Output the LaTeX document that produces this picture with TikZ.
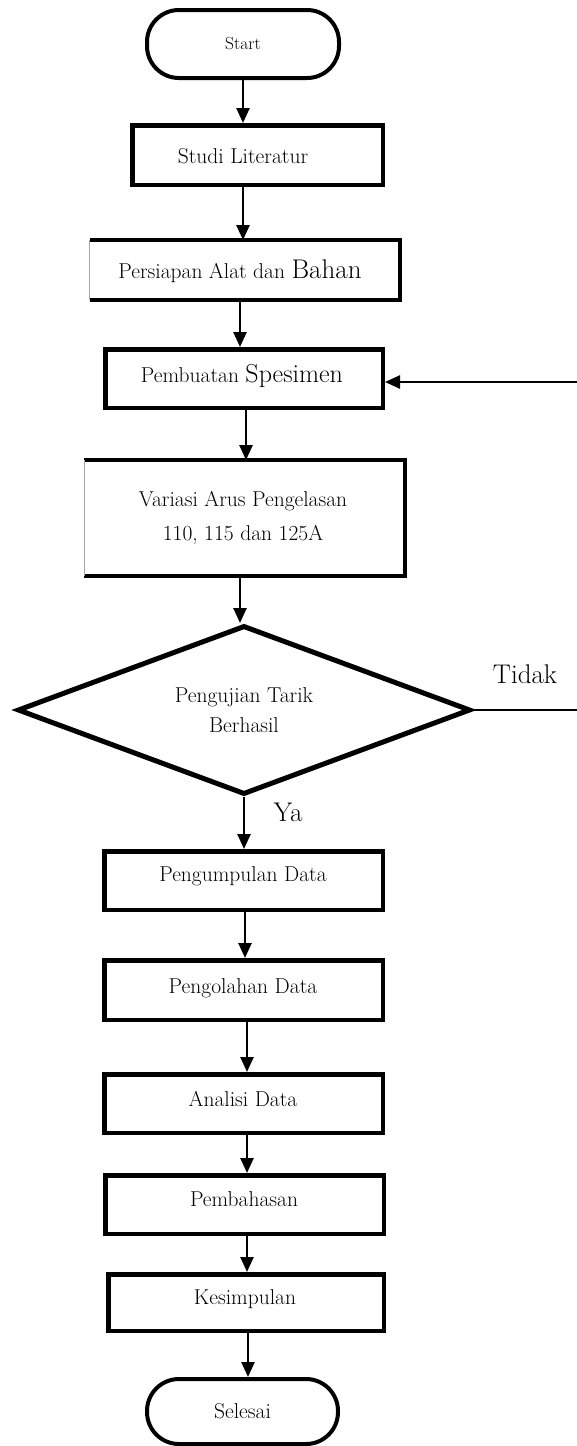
\documentclass[tikz,border=0pt]{standalone}
\usepackage{fontspec}
\usetikzlibrary{shapes.geometric,arrows.meta}
\tikzset{
  box/.style={draw, line width=4.5pt, inner sep=0pt},
  openbox/.style={inner sep=0pt},
  term/.style={draw, line width=4pt, rounded corners=32pt, inner sep=0pt},
  lbl/.style={font=\fontsize{21.5}{34}\selectfont, align=center, inner sep=0pt},
  big/.style={font=\fontsize{27}{27}\selectfont, inner sep=0pt},
  arr/.style={line width=2.5pt, -{Triangle[length=15pt,width=13pt]}},
  plain/.style={line width=2.5pt},
  thickside/.style={line width=4.5pt, line cap=square},
  faintside/.style={line width=0.8pt, black!35},
}
\begin{document}
\begin{tikzpicture}[x=1pt,y=-1pt]
\useasboundingbox (0,0) rectangle (577,1446);
\clip (0,0) rectangle (577,1446);
% terminators and boxes
\node[term, minimum width=192pt, minimum height=68pt, font=\fontsize{17.5}{17.5}\selectfont] (startN) at (243,44) {Start};
\node[box, minimum width=250.5pt, minimum height=59.5pt] (studi) at (257.5,155) {};
\node[lbl] (studiT) at (243,156) {Studi Literatur};
\node[openbox, minimum width=310pt, minimum height=59.5pt] (pers) at (245,270) {};
\draw[thickside] (pers.north west) -- (pers.north east) -- (pers.south east) -- (pers.south west);
\draw[faintside] (pers.north west) -- (pers.south west);
\node[lbl] (persT) at (240,271) {Persiapan Alat dan {\fontsize{27}{27}\selectfont Bahan}};
\node[box, minimum width=277.5pt, minimum height=58.5pt] (pemb) at (244,378.5) {};
\node[lbl] (pembT) at (242,376) {Pembuatan {\fontsize{26}{26}\selectfont Spesimen}};
\node[openbox, minimum width=320.5pt, minimum height=115.5pt] (vari) at (244.5,518) {};
\draw[thickside] (vari.north west) -- (vari.north east) -- (vari.south east) -- (vari.south west);
\draw[faintside] (vari.north west) -- (vari.south west);
\node[lbl] (variT) at (243,518) {Variasi Arus Pengelasan\\110, 115 dan 125A};
\node[draw, diamond, line width=5pt, minimum width=453pt, minimum height=169pt, aspect=2.68, inner sep=0pt, font=\fontsize{21.5}{30}\selectfont, align=center] (dec) at (244,710) {Pengujian Tarik\\Berhasil};
\node[big] (tidak) at (525,674) {Tidak};
\node[big] (ya) at (288,812) {Ya};
\node[box, minimum width=278.5pt, minimum height=58.5pt] (pengum) at (243.5,880.5) {};
\node[lbl] (pengumT) at (243,876) {Pengumpulan Data};
\node[box, minimum width=278.5pt, minimum height=59.5pt] (pengol) at (243.5,990) {};
\node[lbl] (pengolT) at (243,988) {Pengolahan Data};
\node[box, minimum width=278.5pt, minimum height=58.5pt] (anal) at (243.5,1103.5) {};
\node[lbl] (analT) at (243,1099) {Analisi Data};
\node[box, minimum width=278.5pt, minimum height=58.5pt] (pembah) at (244.5,1204.5) {};
\node[lbl] (pembahT) at (244,1199) {Pembahasan};
\node[box, minimum width=275.5pt, minimum height=56.5pt] (kes) at (246,1302.5) {};
\node[lbl] (kesT) at (245,1299) {Kesimpulan};
\node[term, minimum width=191pt, minimum height=65pt, font=\fontsize{21.5}{21.5}\selectfont] (sel) at (242.5,1411.5) {Selesai};
% connectors
\draw[arr] (startN.south) -- (startN.south |- studi.north);
\draw[arr] (startN.south |- studi.south) -- (startN.south |- pers.north);
\draw[arr] (persT |- pers.south) -- (persT |- pemb.north);
\draw[arr] ([xshift=4pt]pembT |- pemb.south) -- ([xshift=4pt]pembT |- vari.north);
\draw[arr] ([xshift=-3pt]variT |- vari.south) -- ([xshift=-3pt]variT |- dec.north);
\draw[arr] (dec.south) -- (dec.south |- pengum.north);
\draw[arr] ([xshift=2pt]pengumT |- pengum.south) -- ([xshift=2pt]pengumT |- pengol.north);
\draw[arr] ([xshift=4pt]pengolT |- pengol.south) -- ([xshift=4pt]pengolT |- anal.north);
\draw[arr] ([xshift=4pt]analT |- anal.south) -- ([xshift=4pt]analT |- pembah.north);
\draw[arr] ([xshift=3pt]pembahT |- pembah.south) -- ([xshift=3pt]pembahT |- kes.north);
\draw[arr] ([xshift=3pt]kesT |- kes.south) -- ([xshift=3pt]kesT |- sel.north);
% loop back (vertical part lies beyond the right edge)
\coordinate (loopA) at (590,711);
\coordinate (loopB) at (590,382);
\draw[plain] (dec.east) -- (loopA |- dec.east) -- (loopB);
\draw[arr] (loopB) -- (pemb.east |- loopB);
\end{tikzpicture}
\end{document}
